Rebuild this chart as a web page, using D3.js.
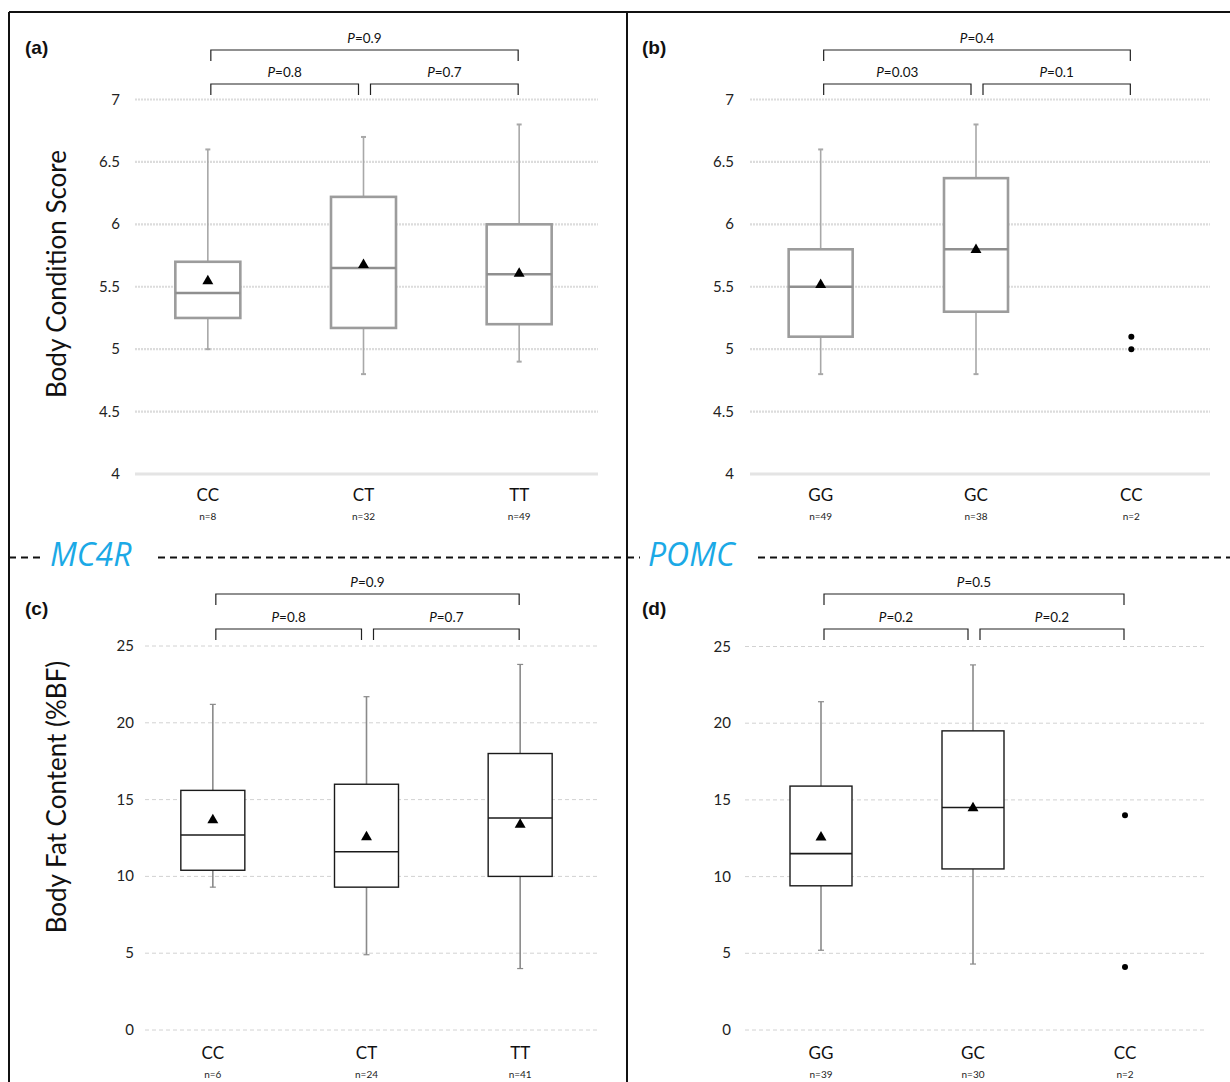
<!DOCTYPE html>
<html><head><meta charset="utf-8">
<script src="https://cdn.jsdelivr.net/npm/d3@7"></script>
<style>body{margin:0;background:#fff}svg{display:block}</style>
</head><body>
<svg id="chart" width="1230" height="1082"></svg>
<script>
// ---------- DATA ----------
const mc4rCats = ["CC", "CT", "TT"];
const pomcCats = ["GG", "GC", "CC"];

// (a) Body condition score, MC4R
const aN = ["n=8", "n=32", "n=49"];
const aMin = [5.0, 4.8, 4.9];
const aQ1 = [5.25, 5.17, 5.2];
const aMed = [5.45, 5.65, 5.6];
const aQ3 = [5.7, 6.22, 6.0];
const aMax = [6.6, 6.7, 6.8];
const aMean = [5.55, 5.68, 5.61];
const aP = ["0.9", "0.8", "0.7"]; // outer, left, right

// (b) Body condition score, POMC
const bN = ["n=49", "n=38", "n=2"];
const bMin = [4.8, 4.8, null];
const bQ1 = [5.1, 5.3, null];
const bMed = [5.5, 5.8, null];
const bQ3 = [5.8, 6.37, null];
const bMax = [6.6, 6.8, null];
const bMean = [5.52, 5.8, null];
const bPoints = [[], [], [5.1, 5.0]];
const bP = ["0.4", "0.03", "0.1"];

// (c) Body fat content, MC4R
const cN = ["n=6", "n=24", "n=41"];
const cMin = [9.3, 4.9, 4.0];
const cQ1 = [10.4, 9.3, 10.0];
const cMed = [12.7, 11.6, 13.8];
const cQ3 = [15.6, 16.0, 18.0];
const cMax = [21.2, 21.7, 23.8];
const cMean = [13.7, 12.6, 13.4];
const cP = ["0.9", "0.8", "0.7"];

// (d) Body fat content, POMC
const dN = ["n=39", "n=30", "n=2"];
const dMin = [5.2, 4.3, null];
const dQ1 = [9.4, 10.5, null];
const dMed = [11.5, 14.5, null];
const dQ3 = [15.9, 19.5, null];
const dMax = [21.4, 23.8, null];
const dMean = [12.6, 14.5, null];
const dPoints = [[], [], [14.0, 4.1]];
const dP = ["0.5", "0.2", "0.2"];

const bcsTicks = [4, 4.5, 5, 5.5, 6, 6.5, 7];
const bcsTickLabels = ["4", "4.5", "5", "5.5", "6", "6.5", "7"];
const bfTicks = [0, 5, 10, 15, 20, 25];
const bfTickLabels = ["0", "5", "10", "15", "20", "25"];

// ---------- DRAW ----------
const svg = d3.select("#chart");
const FONT = "Lato, 'Open Sans', sans-serif";

// frame
svg.append("line").attr("x1", 9).attr("x2", 1230).attr("y1", 12).attr("y2", 12).attr("stroke", "#111").attr("stroke-width", 2);
svg.append("line").attr("x1", 9).attr("x2", 9).attr("y1", 12).attr("y2", 1082).attr("stroke", "#111").attr("stroke-width", 2);
svg.append("line").attr("x1", 627).attr("x2", 627).attr("y1", 12).attr("y2", 1082).attr("stroke", "#111").attr("stroke-width", 2);

// dashed separator + gene names
const sepY = 557.5;
[[9, 42], [158, 627], [627, 640], [758, 1230]].forEach(([x1, x2]) => {
  svg.append("line").attr("x1", x1).attr("x2", x2).attr("y1", sepY).attr("y2", sepY)
    .attr("stroke", "#111").attr("stroke-width", 2).attr("stroke-dasharray", "7,5");
});
svg.append("text").attr("x", 50).attr("y", 566).text("MC4R")
  .attr("font-family", "'Open Sans', sans-serif").attr("font-style", "italic").attr("font-size", 32).attr("fill", "#1ba9e6");
svg.append("text").attr("x", 648).attr("y", 566).text("POMC")
  .attr("font-family", "'Open Sans', sans-serif").attr("font-style", "italic").attr("font-size", 32).attr("fill", "#1ba9e6");

// y-axis titles
svg.append("text").attr("transform", "translate(66,274) rotate(-90)").attr("text-anchor", "middle")
  .attr("font-family", FONT).attr("font-size", 26).attr("fill", "#111").text("Body Condition Score");
svg.append("text").attr("transform", "translate(66,797) rotate(-90)").attr("text-anchor", "middle")
  .attr("font-family", FONT).attr("font-size", 26).attr("fill", "#111").text("Body Fat Content (%BF)");

function panel(cfg) {
  const g = svg.append("g");
  const x = d3.scaleBand().domain(cfg.cats).range(cfg.xRange);
  const y = d3.scaleLinear().domain(cfg.yDomain).range(cfg.yRange);
  const cx = c => x(c) + x.bandwidth() / 2;
  const soft = cfg.soft;

  // panel letter
  g.append("text").attr("x", cfg.labelPos[0]).attr("y", cfg.labelPos[1]).text(cfg.label)
    .attr("font-family", "'Liberation Sans', Arial, sans-serif").attr("font-weight", "bold").attr("font-size", 19).attr("fill", "#111");

  // grid
  const gx1 = cfg.gridX[0], gx2 = cfg.gridX[1];
  cfg.ticks.forEach((t, i) => {
    const isBase = soft && i === 0;
    g.append("line").attr("x1", gx1).attr("x2", gx2).attr("y1", y(t)).attr("y2", y(t))
      .attr("stroke", isBase ? "#e4e4e4" : (soft ? "#dcdcdc" : "#d2d2d2"))
      .attr("stroke-width", isBase ? 3 : (soft ? 2.2 : 1))
      .attr("stroke-dasharray", isBase ? null : (soft ? "2,1" : "4,3"));
  });

  // y axis labels via d3 axis
  const axis = d3.axisLeft(y).tickValues(cfg.ticks).tickFormat((d, i) => cfg.tickLabels[i]).tickSize(0).tickPadding(0);
  const ag = g.append("g").attr("transform", `translate(${cfg.tickX},0)`).call(axis);
  ag.select(".domain").remove();
  ag.selectAll("text").attr("font-family", FONT).attr("font-size", 15).attr("fill", "#222").attr("dy", "0.3em");

  // x axis labels
  const xa = d3.axisBottom(x).tickSize(0).tickPadding(0);
  const xg = g.append("g").attr("transform", `translate(0,${cfg.catY})`).call(xa);
  xg.select(".domain").remove();
  xg.selectAll("text").attr("font-family", FONT).attr("font-size", 17).attr("fill", "#111").attr("dy", 0);
  cfg.cats.forEach((c, i) => {
    g.append("text").attr("x", cx(c)).attr("y", cfg.catY + 19).attr("text-anchor", "middle")
      .attr("font-family", FONT).attr("font-size", 10).attr("fill", "#222").text(cfg.n[i]);
  });

  const bw = cfg.boxW;
  const boxStroke = soft ? "#9c9c9c" : "#1a1a1a";
  const boxW = soft ? 2.6 : 1.4;
  const whiskStroke = soft ? "#a8a8a8" : "#8a8a8a";
  cfg.cats.forEach((c, i) => {
    const xc = cx(c);
    if (cfg.q1[i] != null) {
      // whiskers
      g.append("line").attr("x1", xc).attr("x2", xc).attr("y1", y(cfg.max[i])).attr("y2", y(cfg.q3[i]))
        .attr("stroke", whiskStroke).attr("stroke-width", 1.6);
      g.append("line").attr("x1", xc).attr("x2", xc).attr("y1", y(cfg.q1[i])).attr("y2", y(cfg.min[i]))
        .attr("stroke", whiskStroke).attr("stroke-width", 1.6);
      const cap = soft ? 2.5 : 3;
      [cfg.max[i], cfg.min[i]].forEach(v => {
        g.append("line").attr("x1", xc - cap).attr("x2", xc + cap).attr("y1", y(v)).attr("y2", y(v))
          .attr("stroke", whiskStroke).attr("stroke-width", soft ? 2 : 1.2);
      });
      // box
      g.append("rect").attr("x", xc - bw / 2).attr("width", bw)
        .attr("y", y(cfg.q3[i])).attr("height", y(cfg.q1[i]) - y(cfg.q3[i]))
        .attr("fill", "#fff").attr("stroke", boxStroke).attr("stroke-width", boxW);
      g.append("line").attr("x1", xc - bw / 2).attr("x2", xc + bw / 2).attr("y1", y(cfg.med[i])).attr("y2", y(cfg.med[i]))
        .attr("stroke", soft ? "#8f8f8f" : "#1a1a1a").attr("stroke-width", soft ? 2.6 : 1.6);
      // mean
      g.append("path").attr("d", d3.symbol(d3.symbolTriangle, 52)())
        .attr("transform", `translate(${xc},${y(cfg.mean[i]) + 0.5})`).attr("fill", "#000");
    }
    (cfg.points && cfg.points[i] || []).forEach(v => {
      g.append("circle").attr("cx", xc).attr("cy", y(v)).attr("r", 3).attr("fill", "#000");
    });
  });

  // significance brackets
  const x0 = cx(cfg.cats[0]) + 3, x1a = cx(cfg.cats[1]) - 5, x1b = cx(cfg.cats[1]) + 7, x2 = cx(cfg.cats[2]) - 1;
  const bt = cfg.bracketY;
  const bracket = (xa, xb, yy, txt) => {
    g.append("path").attr("d", `M${xa},${yy + 11}V${yy}H${xb}V${yy + 11}`)
      .attr("fill", "none").attr("stroke", "#222").attr("stroke-width", 1.2);
    const t = g.append("text").attr("x", (xa + xb) / 2).attr("y", yy - 7).attr("text-anchor", "middle")
      .attr("font-family", FONT).attr("font-size", 13.5).attr("fill", "#111");
    t.append("tspan").attr("font-style", "italic").text("P");
    t.append("tspan").text("=" + txt);
  };
  bracket(x0, x2, bt[0], cfg.p[0]);
  bracket(x0, x1a, bt[1], cfg.p[1]);
  bracket(x1b, x2, bt[1], cfg.p[2]);
}

panel({
  label: "(a)", labelPos: [25, 54], cats: mc4rCats, n: aN,
  min: aMin, q1: aQ1, med: aMed, q3: aQ3, max: aMax, mean: aMean, p: aP,
  yDomain: [4, 7], yRange: [474, 99.5], ticks: bcsTicks, tickLabels: bcsTickLabels,
  xRange: [130, 597], gridX: [135, 598], tickX: 120, catY: 501, boxW: 65, soft: true,
  bracketY: [50, 84]
});
panel({
  label: "(b)", labelPos: [642, 54], cats: pomcCats, n: bN,
  min: bMin, q1: bQ1, med: bMed, q3: bQ3, max: bMax, mean: bMean, points: bPoints, p: bP,
  yDomain: [4, 7], yRange: [474, 99.5], ticks: bcsTicks, tickLabels: bcsTickLabels,
  xRange: [743, 1209], gridX: [750, 1210], tickX: 734, catY: 501, boxW: 64, soft: true,
  bracketY: [50, 84]
});
panel({
  label: "(c)", labelPos: [25, 615], cats: mc4rCats, n: cN,
  min: cMin, q1: cQ1, med: cMed, q3: cQ3, max: cMax, mean: cMean, p: cP,
  yDomain: [0, 25], yRange: [1030, 646], ticks: bfTicks, tickLabels: bfTickLabels,
  xRange: [136, 597], gridX: [145, 598], tickX: 134, catY: 1059, boxW: 64, soft: false,
  bracketY: [594, 629]
});
panel({
  label: "(d)", labelPos: [642, 615], cats: pomcCats, n: dN,
  min: dMin, q1: dQ1, med: dMed, q3: dQ3, max: dMax, mean: dMean, points: dPoints, p: dP,
  yDomain: [0, 25], yRange: [1030, 646.5], ticks: bfTicks, tickLabels: bfTickLabels,
  xRange: [745, 1201], gridX: [745, 1205], tickX: 731, catY: 1059, boxW: 62, soft: false,
  bracketY: [594, 629]
});
</script>
</body></html>
